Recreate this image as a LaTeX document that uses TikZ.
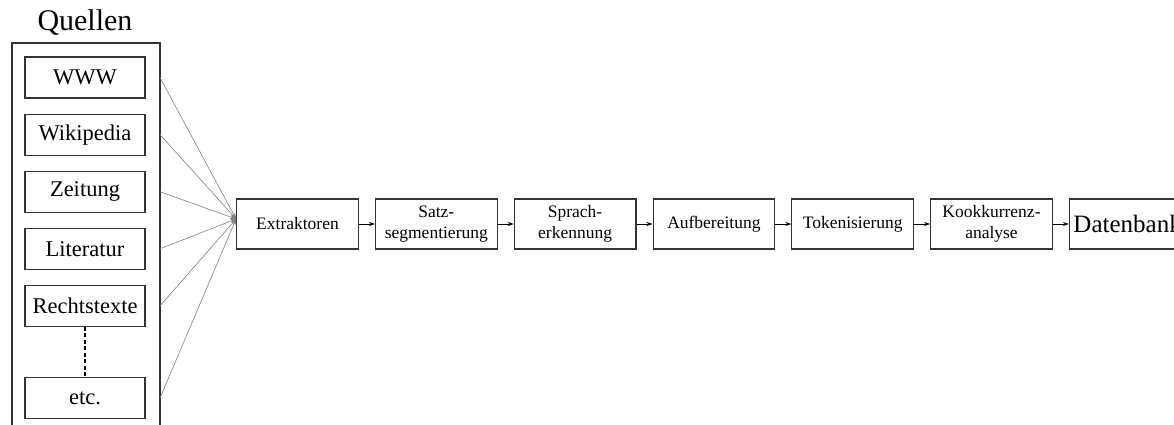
\documentclass[tikz,border=0pt]{standalone}
\usepackage{fontspec}
\setmainfont{Liberation Serif}
\usetikzlibrary{positioning,arrows.meta}
\begin{document}
\begin{tikzpicture}[x=1pt,y=1pt,node distance=16pt]
   \tikzset{quelle/.style = {rectangle, draw=black!80, line width=1.1pt, minimum width=120pt, minimum height=41pt, inner sep=0pt, font=\fontsize{22.5}{26}\selectfont}, }
   \tikzset{stufe/.style = {rectangle, draw=black!80, line width=1.1pt, minimum width=121.7pt, minimum height=50pt, inner sep=2pt, align=center, font=\fontsize{17.5}{21}\selectfont}, }
   \tikzset{zufluss/.style = {draw=gray, line width=0.6pt, -{Stealth[length=6pt, width=4pt]}} }
   \tikzset{fluss/.style = {line width=0.6pt, -{Stealth[length=6pt, width=4pt]}} }
   \useasboundingbox (0,0) rectangle (1174,-425);

   % Quellen
   \node[font=\fontsize{30}{34}\selectfont] (Quellen) at (85,-23) {Quellen};
   \draw[draw=black!80, line width=1.1pt] (12,-425) -- (12,-43) -- (160,-43) -- (160,-425);
   \node[quelle] (WWW) at (85,-77.5) {WWW};
   \node[quelle, below=15pt of WWW] (Wiki) {Wikipedia};
   \node[quelle, below=15pt of Wiki] (Zeit) {Zeitung};
   \node[quelle, below=15pt of Zeit] (Lit) {Literatur};
   \node[quelle, below=15pt of Lit] (Recht) {Rechtstexte};
   \node[quelle, below=50pt of Recht] (Etc) {etc.};
   \draw[line width=2pt, dash pattern=on 4pt off 2.5pt] (Recht) -- (Etc);

   % Verarbeitungskette
   \node[stufe] (Extr) at (297.5,-224) {Extraktoren};
   \node[stufe, right=of Extr] (Satz) {Satz-\\segmentierung};
   \node[stufe, right=of Satz] (Sprach) {Sprach-\\erkennung};
   \node[stufe, right=of Sprach] (Aufb) {Aufbereitung};
   \node[stufe, right=of Aufb] (Token) {Tokenisierung};
   \node[stufe, right=of Token] (Kook) {Kookkurrenz-\\analyse};
   \node[stufe, right=of Kook, minimum width=180pt, text width=172pt, align=left, inner sep=4pt,
         font=\fontsize{25}{29}\selectfont] (DB) {Datenbank};

   \coordinate (ein) at ([yshift=5pt]Extr.west);
   \foreach \q in {WWW,Wiki,Zeit,Lit,Recht,Etc}
      \draw[zufluss] (\q.east -| 160,0) -- (ein);
   \draw[fluss] (Extr) -- (Satz);
   \draw[fluss] (Satz) -- (Sprach);
   \draw[fluss] (Sprach) -- (Aufb);
   \draw[fluss] (Aufb) -- (Token);
   \draw[fluss] (Token) -- (Kook);
   \draw[fluss] (Kook) -- (DB);
\end{tikzpicture}
\end{document}
